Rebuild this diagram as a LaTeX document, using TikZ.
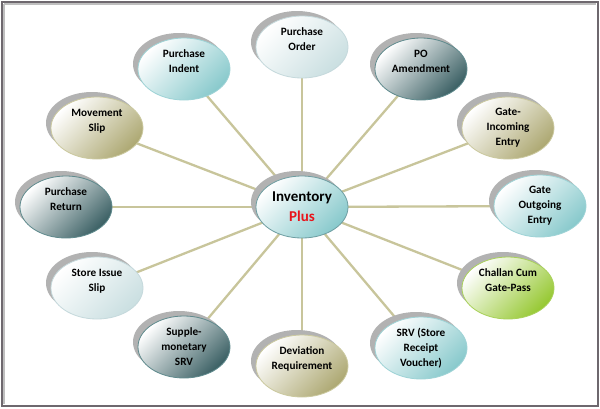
\documentclass[tikz,border=0pt]{standalone}
\usepackage{fontspec}
\setmainfont{Carlito}
\usetikzlibrary{shapes.geometric,shadows,backgrounds}
\pgfdeclarelayer{paper}
\pgfsetlayers{paper,background,main}
\definecolor{tealF}{HTML}{88C9CC}
\definecolor{tealB}{HTML}{9ED3D6}
\definecolor{darkF}{HTML}{3B6064}
\definecolor{darkB}{HTML}{5F8A8D}
\definecolor{oliveF}{HTML}{ADA872}
\definecolor{oliveB}{HTML}{CBC99F}
\definecolor{greenF}{HTML}{96C832}
\definecolor{greenB}{HTML}{A9D15A}
\definecolor{lightF}{HTML}{CADFE1}
\definecolor{lightB}{HTML}{C5D9DC}
\definecolor{centerB}{HTML}{6E9EA2}
\definecolor{linec}{HTML}{C8C59B}
\definecolor{framec}{HTML}{6E686E}
\definecolor{plusred}{HTML}{E8141B}
\tikzset{
  bubble/.style={ellipse, minimum width=92pt, minimum height=62pt, inner sep=0pt,
    align=center, font=\fontsize{11.2}{15}\selectfont\bfseries, line width=0.8pt,
    general shadow={shadow xshift=-5pt, shadow yshift=5pt, fill=black!30}},
  colbub/.style 2 args={bubble, draw=#2, top color=white, middle color=#1!10!white, bottom color=#1, shading angle=45},
  tealbub/.style={colbub={tealF}{tealB}},
  darkbub/.style={colbub={darkF}{darkB}},
  olivebub/.style={colbub={oliveF}{oliveB}},
  greenbub/.style={colbub={greenF}{greenB}},
  lightbub/.style={colbub={lightF}{lightB}},
  spoke/.style={draw=linec, line width=2.3pt}
}
\begin{document}
\begin{tikzpicture}[x=1pt, y=-1pt]
\useasboundingbox (0,0) rectangle (600,408);
\begin{pgfonlayer}{paper}
  \fill[white] (0,0) rectangle (600,408);
  \draw[black!25, line width=2pt] (4,4) -- (596,4);
  \draw[black!25, line width=2pt] (4,4) -- (4,404);
  \draw[framec, line width=2pt] (1.5,1.5) rectangle (598,406);
\end{pgfonlayer}

\node[tealbub, draw=centerB, font=\fontsize{15}{20}\selectfont\bfseries] (c) at (302,207) {Inventory\\\textcolor{plusred}{Plus}};

\node[lightbub] (n1) at (302,47) {Purchase\\Order\\\mbox{}};
\node[darkbub] (n2) at (421,69) {PO\\Amendment\\\mbox{}};
\node[olivebub] (n3) at (508,128) {Gate-\\Incoming\\Entry};
\node[tealbub] (n4) at (540,206) {Gate\\Outgoing\\Entry};
\node[greenbub] (n5) at (508,288) {Challan Cum\\Gate-Pass\\\mbox{}};
\node[tealbub] (n6) at (421,348) {SRV (Store\\Receipt\\Voucher)};
\node[olivebub] (n7) at (302,366) {Deviation\\Requirement\\\mbox{}};
\node[darkbub] (n8) at (184,347) {Supple-\\monetary\\SRV};
\node[lightbub] (n9) at (97,288) {Store Issue\\Slip\\\mbox{}};
\node[darkbub] (n10) at (66,207) {Purchase\\Return\\\mbox{}};
\node[olivebub] (n11) at (97,128) {Movement\\Slip\\\mbox{}};
\node[tealbub] (n12) at (184,69) {Purchase\\Indent\\\mbox{}};

\begin{pgfonlayer}{background}
  \foreach \n in {n1,n2,n3,n4,n5,n6,n7,n8,n9,n10,n11,n12}
    \draw[spoke] (c.center) -- (\n.center);
\end{pgfonlayer}
\end{tikzpicture}
\end{document}
